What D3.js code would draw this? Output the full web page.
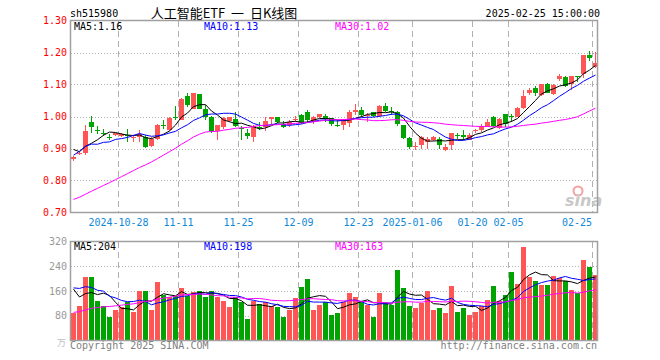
<!DOCTYPE html>
<html>
<head>
<meta charset="utf-8">
<script src="https://cdn.jsdelivr.net/npm/d3@7"></script>
<style>
body { margin: 0; background: #fff; }
text { font-family: "DejaVu Sans Mono", monospace; font-size: 10px; }
</style>
</head>
<body>
<script>
// trading days shown
var dates = [
  "2024-10-16","2024-10-17","2024-10-18","2024-10-21","2024-10-22","2024-10-23","2024-10-24","2024-10-25","2024-10-28","2024-10-29","2024-10-30","2024-10-31",
  "2024-11-01","2024-11-04","2024-11-05","2024-11-06","2024-11-07","2024-11-08","2024-11-11","2024-11-12","2024-11-13","2024-11-14","2024-11-15",
  "2024-11-18","2024-11-19","2024-11-20","2024-11-21","2024-11-22","2024-11-25","2024-11-26","2024-11-27","2024-11-28","2024-11-29",
  "2024-12-02","2024-12-03","2024-12-04","2024-12-05","2024-12-06","2024-12-09","2024-12-10","2024-12-11","2024-12-12","2024-12-13",
  "2024-12-16","2024-12-17","2024-12-18","2024-12-19","2024-12-20","2024-12-23","2024-12-24","2024-12-25","2024-12-26","2024-12-27","2024-12-30","2024-12-31",
  "2025-01-02","2025-01-03","2025-01-06","2025-01-07","2025-01-08","2025-01-09","2025-01-10","2025-01-13","2025-01-14","2025-01-15","2025-01-16","2025-01-17",
  "2025-01-20","2025-01-21","2025-01-22","2025-01-23","2025-01-24","2025-01-27",
  "2025-02-05","2025-02-06","2025-02-07","2025-02-10","2025-02-11","2025-02-12","2025-02-13","2025-02-14","2025-02-17","2025-02-18","2025-02-19","2025-02-20","2025-02-21","2025-02-24","2025-02-25"
];

var open = [
  0.866,0.883,0.886,0.983,0.958,0.950,0.937,0.942,0.938,0.942,
  0.935,0.936,0.936,0.908,0.929,0.975,0.957,0.999,0.989,1.064,
  1.025,1.070,1.023,0.997,0.955,0.966,0.986,0.992,0.965,0.950,
  0.936,0.968,0.966,0.991,0.998,0.978,0.973,0.990,1.004,1.015,
  0.983,0.997,1.001,0.994,0.972,0.973,0.980,1.015,1.020,1.003,
  1.013,1.001,1.033,1.018,1.015,0.973,0.933,0.906,0.910,0.921,
  0.926,0.929,0.895,0.910,0.941,0.942,0.928,0.954,0.959,0.968,
  0.999,0.965,1.007,1.002,0.999,1.028,1.072,1.088,1.067,1.101,
  1.070,1.116,1.122,1.103,1.127,1.132,1.192,1.155
];
var close = [
  0.874,0.885,0.954,0.968,0.956,0.944,0.935,0.947,0.945,0.939,
  0.937,0.944,0.905,0.929,0.973,0.972,0.995,0.997,1.055,1.035,
  1.072,1.025,0.999,0.955,0.972,0.995,0.997,0.970,0.962,0.939,
  0.971,0.964,0.985,0.998,0.983,0.968,0.983,0.993,0.981,0.989,
  0.999,1.007,0.991,0.978,0.970,0.989,1.015,1.020,1.004,1.005,
  1.001,1.033,1.017,1.016,0.976,0.934,0.905,0.909,0.936,0.931,
  0.936,0.910,0.905,0.947,0.939,0.936,0.942,0.957,0.970,0.983,
  0.970,0.992,0.978,1.000,1.028,1.065,1.084,1.075,1.101,1.075,
  1.098,1.127,1.096,1.127,1.126,1.192,1.184,1.168
];
var high = [
  0.876,0.889,0.973,1.001,0.970,0.962,0.946,0.950,0.948,0.962,
  0.942,0.957,0.942,0.935,0.976,0.989,0.997,1.032,1.058,1.075,
  1.072,1.070,1.035,1.001,0.972,0.997,1.000,1.015,0.970,0.962,
  0.973,0.983,0.997,0.998,0.999,0.986,0.989,1.003,1.007,1.020,
  1.002,1.008,1.007,0.996,0.989,0.992,1.020,1.039,1.030,1.011,
  1.015,1.037,1.043,1.030,1.017,0.974,0.935,0.921,0.939,0.936,
  0.940,0.936,0.914,0.949,0.947,0.957,0.949,0.962,0.976,0.991,
  1.001,0.994,1.008,1.008,1.030,1.082,1.088,1.096,1.101,1.106,
  1.103,1.134,1.127,1.127,1.127,1.192,1.205,1.202
];
var low = [
  0.862,0.879,0.880,0.947,0.944,0.940,0.926,0.938,0.935,0.921,
  0.921,0.921,0.903,0.905,0.926,0.960,0.955,0.989,0.989,1.030,
  1.022,1.022,0.989,0.947,0.926,0.962,0.983,0.966,0.926,0.931,
  0.921,0.957,0.955,0.978,0.980,0.965,0.968,0.983,0.976,0.983,
  0.978,0.995,0.983,0.970,0.966,0.957,0.966,1.004,0.997,0.983,
  0.997,1.000,1.015,1.004,0.971,0.930,0.900,0.894,0.900,0.900,
  0.922,0.900,0.893,0.895,0.929,0.926,0.926,0.947,0.952,0.966,
  0.966,0.960,0.968,0.983,0.997,1.025,1.067,1.064,1.065,1.072,
  1.067,1.111,1.093,1.084,1.108,1.119,1.174,1.153
];
// volume, 万手
var volume = [
  88,113,206,206,129,111,75,97,107,124,
  91,159,161,100,188,148,140,145,169,143,
  158,161,142,161,140,129,107,142,124,68,
  127,118,124,110,107,77,97,136,174,200,
  100,116,124,84,90,124,155,139,124,115,
  77,155,124,116,229,169,113,104,120,161,
  97,106,90,177,93,106,84,93,110,132,
  177,129,148,222,184,302,205,193,180,180,
  209,201,193,164,153,260,238,212
];
// the 29 sessions before the first one, only needed for the moving averages
var preClose = [0.68,0.675,0.68,0.69,0.675,0.67,0.668,0.665,0.655,0.65,0.655,0.66,0.655,0.65,
  0.655,0.67,0.68,0.675,0.71,0.72,0.76,0.80,0.90,0.96,0.885,0.92,0.87,0.92,0.901];
var preVolume = [45,42,48,50,44,40,38,42,45,40,38,42,39,41,43,48,50,45,110,140,130,150,230,220,140,240,150,190,162];

var tickDates = ["2024-10-28","2024-11-11","2024-11-25","2024-12-09","2024-12-23","2025-01-06","2025-01-20","2025-02-05","2025-02-25"];
var tickLabels = ["2024-10-28","11-11","11-25","12-09","12-23","2025-01-06","01-20","02-05","02-25"];
var priceTicks = [0.7,0.8,0.9,1.0,1.1,1.2,1.3];
var volTicks = [80,160,240,320];
var maNames = ["MA5","MA10","MA30"];
var maPeriods = [5,10,30];
var maColors = ["#000000","#0000ff","#ff00ff"];
var priceLegend = ["1.16","1.13","1.02"];
var volLegend = ["204","198","163"];

var width = 660, height = 360;
var left = 70.5, right = 597.5;
var up = "#ff5555", down = "#00a400", grid = "#b0b0b0", frame = "#a0a0a0";

var svg = d3.select("body").append("svg")
  .attr("width", width).attr("height", height);

var x = d3.scaleBand().domain(dates).range([71, 599]).padding(0);
var y = d3.scaleLinear().domain([0.7, 1.3]).range([212.5, 20.5]);
var yv = d3.scaleLinear().domain([0, 320]).range([340.5, 241.5]);

function ma(vals, pre, n) {
  var all = pre.concat(vals);
  return vals.map(function(v, i) {
    return d3.mean(all.slice(i + pre.length - n + 1, i + pre.length + 1));
  });
}

// header
svg.append("text").attr("x", 70).attr("y", 17).text("sh515980");
svg.append("text").attr("x", 224).attr("y", 18).attr("text-anchor", "middle")
  .style("font-family", "'Noto Sans CJK SC', sans-serif").style("font-size", "13px")
  .style("white-space", "pre")
  .text("人工智能ETF  一  日K线图");
svg.append("text").attr("x", 600).attr("y", 17).attr("text-anchor", "end").text("2025-02-25 15:00:00");

// grids
function panelGrid(top, bottom, ys) {
  var g = svg.append("g").attr("shape-rendering", "crispEdges");
  g.selectAll("line.h").data(ys).enter().append("line")
    .attr("x1", left).attr("x2", right)
    .attr("y1", function(d) { return Math.round(d) + 0.5; })
    .attr("y2", function(d) { return Math.round(d) + 0.5; })
    .attr("stroke", grid).attr("stroke-dasharray", "1,2");
  g.selectAll("line.v").data(tickDates).enter().append("line")
    .attr("x1", function(d) { return x(d) - 0.5; })
    .attr("x2", function(d) { return x(d) - 0.5; })
    .attr("y1", top).attr("y2", bottom)
    .attr("stroke", grid).attr("stroke-dasharray", "6,4");
}
panelGrid(21, 212, [0.8, 0.9, 1.0, 1.1, 1.2].map(y));
panelGrid(242, 340, [80, 160, 240].map(yv));

// sina watermark
svg.append("circle").attr("cx", 578).attr("cy", 191).attr("r", 4.5)
  .attr("fill", "none").attr("stroke", "#f7a0a0").attr("stroke-width", 2);
svg.append("text").attr("x", 565).attr("y", 206)
  .style("font-family", "'DejaVu Sans', sans-serif").style("font-size", "16px")
  .style("font-weight", "bold").style("font-style", "italic")
  .attr("fill", "#c8c8c8").text("sina");

// candles
var cg = svg.append("g").attr("shape-rendering", "crispEdges");
var idx = d3.range(dates.length);
function col(i) { return close[i] >= open[i] ? up : down; }
cg.selectAll("line.wick").data(idx).enter().append("line")
  .attr("x1", function(i) { return x(dates[i]) + 2.5; })
  .attr("x2", function(i) { return x(dates[i]) + 2.5; })
  .attr("y1", function(i) { return y(high[i]); })
  .attr("y2", function(i) { return y(low[i]); })
  .attr("stroke", col);
cg.selectAll("rect").data(idx).enter().append("rect")
  .attr("x", function(i) { return x(dates[i]); })
  .attr("width", 5)
  .attr("y", function(i) { return y(Math.max(open[i], close[i])); })
  .attr("height", function(i) { return Math.max(1, Math.abs(y(open[i]) - y(close[i]))); })
  .attr("fill", col);

// volume bars
svg.append("g").attr("shape-rendering", "crispEdges")
  .selectAll("rect").data(idx).enter().append("rect")
  .attr("x", function(i) { return x(dates[i]); })
  .attr("width", 5)
  .attr("y", function(i) { return yv(volume[i]); })
  .attr("height", function(i) { return yv(0) - yv(volume[i]); })
  .attr("fill", col);

// moving averages
maPeriods.forEach(function(n, j) {
  var pm = ma(close, preClose, n), vm = ma(volume, preVolume, n);
  var lp = d3.line().x(function(d, i) { return x(dates[i]) + 2.5; }).y(function(d) { return y(d); });
  var lv = d3.line().x(function(d, i) { return x(dates[i]) + 2.5; }).y(function(d) { return yv(d); });
  svg.append("path").attr("d", lp(pm)).attr("fill", "none").attr("stroke", maColors[j]).attr("stroke-width", 1);
  svg.append("path").attr("d", lv(vm)).attr("fill", "none").attr("stroke", maColors[j]).attr("stroke-width", 1);
});

// frames
svg.append("rect").attr("x", left).attr("y", 20.5).attr("width", right - left).attr("height", 192)
  .attr("fill", "none").attr("stroke", frame).attr("stroke-width", 1.5);
svg.append("rect").attr("x", left).attr("y", 241.5).attr("width", right - left).attr("height", 99)
  .attr("fill", "none").attr("stroke", frame).attr("stroke-width", 1.5);

// axis labels
svg.selectAll("text.py").data(priceTicks).enter().append("text")
  .attr("x", 67).attr("y", function(d) { return y(d) + 3.5; })
  .attr("text-anchor", "end").attr("fill", "#ff0000")
  .text(function(d) { return d.toFixed(2); });
svg.selectAll("text.vy").data(volTicks).enter().append("text")
  .attr("x", 67).attr("y", function(d) { return yv(d) + 3.5; })
  .attr("text-anchor", "end").attr("fill", "#999")
  .text(function(d) { return d; });
svg.selectAll("text.xl").data(tickDates).enter().append("text")
  .attr("x", function(d, i) { return i == tickDates.length - 1 ? x(d) - 1 : x(d) - 0.5; })
  .attr("y", 226)
  .attr("text-anchor", function(d, i) { return i == tickDates.length - 1 ? "end" : "middle"; })
  .attr("fill", "#1088d8")
  .text(function(d, i) { return tickLabels[i]; });

// legends
var legX = [74, 204, 335];
maNames.forEach(function(name, j) {
  svg.append("text").attr("x", legX[j]).attr("y", 30).attr("fill", maColors[j]).text(name + ":" + priceLegend[j]);
  svg.append("text").attr("x", legX[j]).attr("y", 250).attr("fill", maColors[j]).text(name + ":" + volLegend[j]);
});

// footer
svg.append("text").attr("x", 57).attr("y", 346).attr("fill", "#c0c0c0")
  .style("font-family", "'Noto Sans CJK SC', sans-serif").style("font-size", "9px").text("万");
svg.append("text").attr("x", 70).attr("y", 349).attr("fill", "#808080").text("Copyright 2025 SINA.COM");
svg.append("text").attr("x", 597).attr("y", 349).attr("text-anchor", "end").attr("fill", "#808080").text("http://finance.sina.com.cn");
</script>
</body>
</html>
